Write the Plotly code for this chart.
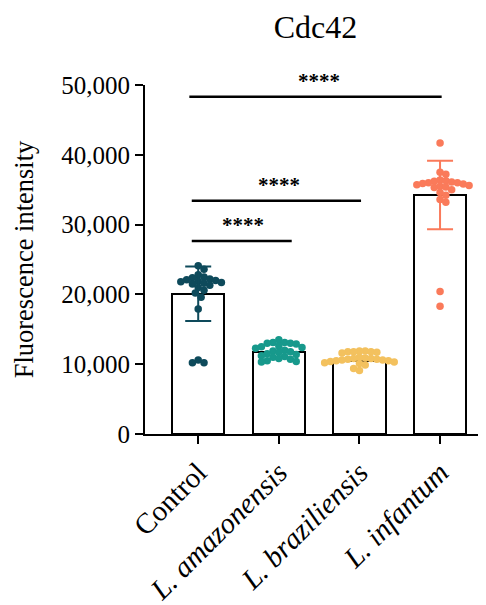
import numpy as np
import plotly.graph_objects as go

categories = ["Control", "L. amazonensis", "L. braziliensis", "L. infantum"]
tick_labels = ["Control", "<i>L. amazonensis</i>", "<i>L. braziliensis</i>", "<i>L. infantum</i>"]
means = [20100, 11750, 10460, 34250]
sds = [3900, 0, 0, 4900]

control = [24100, 23600, 22800, 22500, 22400, 22200, 22100, 22000, 21900, 21800, 21700,
           21600, 21500, 21300, 21000, 20600, 20200, 19600, 17900, 10600, 10200, 10200]
amazonensis = [13500, 13100, 13100, 13000, 13000, 12900, 12600, 12500, 12400, 12300, 12000,
               11900, 11800, 11700, 11500, 11400, 11200, 11100, 11000, 10800, 10700, 10500,
               10400, 10300]
braziliensis = [11900, 11900, 11800, 11800, 11800, 11700, 11600, 11000, 10900, 10800, 10800,
                10700, 10700, 10600, 10600, 10500, 10500, 10400, 10300, 10200, 10100, 9900,
                9400, 9100]
infantum = [41700, 37500, 37200, 36400, 36300, 36200, 36100, 36000, 36000, 35900, 35800,
            35700, 35600, 35500, 35400, 35300, 35000, 34600, 34200, 33600, 33200, 20400, 18300]
groups = [control, amazonensis, braziliensis, infantum]

comparisons = [(0, 3, 48300), (0, 2, 33400), (0, 1, 27650)]
sig_label = "****"

colors = ["#0e4a5b", "#17998c", "#f3c15e", "#fa7a5a"]

# layout geometry (page body adds an 8px offset)
L, R, T, B = 137, 8, 77, 179
W, H = 486, 605
xr = [-0.66, 3.57]
yr = [0, 50000]
px_per_x = (W - L - R) / (xr[1] - xr[0])
px_per_y = (H - T - B) / (yr[1] - yr[0])


def swarm(vals, diam=5.8):
    order = np.argsort(vals)[::-1]
    placed = []
    offs = np.zeros(len(vals))
    cands = [0.0]
    for s in range(1, 60):
        cands += [s * diam * 0.5, -s * diam * 0.5]
    for i in order:
        yp = vals[i] * px_per_y
        for c in cands:
            if all((px - c) ** 2 + (py - yp) ** 2 >= diam ** 2 for (px, py) in placed):
                offs[i] = c
                placed.append((c, yp))
                break
    return offs / px_per_x


fig = go.Figure()
fig.add_trace(go.Bar(x=list(range(4)), y=means, width=0.65,
                     marker=dict(color="white", line=dict(color="black", width=2)),
                     showlegend=False, hoverinfo="skip"))

for i, g in enumerate(groups):
    offs = swarm(np.array(g, dtype=float))
    fig.add_trace(go.Scatter(x=i + offs, y=g, mode="markers",
                             marker=dict(color=colors[i], size=7.5, line=dict(width=0)),
                             showlegend=False))
    if sds[i] > 0:
        fig.add_trace(go.Scatter(x=[i], y=[means[i]], mode="markers",
                                 marker=dict(size=0.1, color=colors[i]),
                                 error_y=dict(type="data", array=[sds[i]], color=colors[i],
                                              thickness=2, width=13),
                                 showlegend=False))

for (a, b, yv) in comparisons:
    fig.add_shape(type="line", xref="x", yref="y", x0=a - 0.11 + 0.03 * (a == 0 and b < 3),
                  x1=b + 0.02 + 0.14 * (b == 1), y0=yv, y1=yv,
                  line=dict(color="black", width=2.5))
    fig.add_annotation(x=(a + b) / 2 + (0.05 if b == 1 else 0), y=yv, yref="y", xref="x",
                       text="<b>" + sig_label + "</b>", showarrow=False, yanchor="bottom",
                       yshift=2, font=dict(family="Liberation Serif", size=21, color="black"))

fig.update_layout(
    width=W, height=H,
    margin=dict(l=L, r=R, t=T, b=B, autoexpand=False),
    plot_bgcolor="white", paper_bgcolor="white",
    title=dict(text="Cdc42", x=0.5, xref="paper", y=1 - 19 / H, yanchor="middle",
               automargin=False,
               font=dict(family="Liberation Serif", size=32, color="black")),
    font=dict(family="Liberation Serif", color="black"),
    bargap=0,
)
fig.update_xaxes(range=xr, tickvals=list(range(4)), ticktext=tick_labels, tickangle=-45,
                 automargin=False,
                 showline=True, linecolor="black", linewidth=2, ticks="outside",
                 ticklen=8, tickwidth=2, tickcolor="black", showgrid=False, zeroline=False,
                 tickfont=dict(family="Liberation Serif", size=29, color="black"))
fig.update_yaxes(range=yr, tickvals=[0, 10000, 20000, 30000, 40000, 50000], tickformat=",",
                 automargin=False,
                 showline=True, linecolor="black", linewidth=2, ticks="outside",
                 ticklen=8, tickwidth=2, tickcolor="black", showgrid=False, zeroline=False,
                 tickfont=dict(family="Liberation Serif", size=25, color="black"),
                 title=dict(text="Fluorescence intensity", standoff=20,
                            font=dict(family="Liberation Serif", size=26.5, color="black")))

fig.write_html("out.html")
